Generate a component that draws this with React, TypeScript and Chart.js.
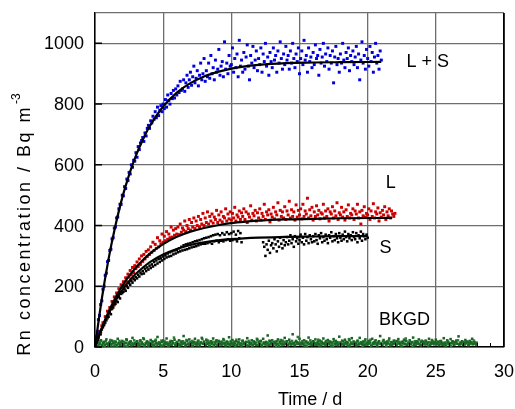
import { useEffect, useRef } from "react";
import { Chart, registerables } from "chart.js";

Chart.register(...registerables);

// sampling interval of the monitor (days) – 2 h
const DT = 1 / 12;
// the second background channel is shifted by half an interval
const BKGD_B_OFFSET = 1 / 24;

// L + S measured concentration (Bq m^-3), one value per 2 h from t = 0
const LS_VALUES = [
  12, 35, 50, 90, 104, 140, 152, 190, 200, 236, 243, 281,
  285, 318, 322, 356, 360, 392, 395, 425, 428, 455, 470, 470,
  500, 498, 528, 522, 553, 548, 575, 570, 600, 592, 615, 612,
  640, 625, 660, 650, 672, 680, 690, 677, 705, 695, 720, 730,
  720, 745, 738, 760, 750, 775, 755, 790, 762, 780, 795, 775,
  800, 785, 815, 790, 830, 812, 800, 835, 818, 845, 820, 850,
  830, 860, 838, 875, 845, 850, 880, 842, 870, 895, 855, 880,
  905, 862, 890, 925, 870, 885, 910, 860, 895, 935, 880, 900,
  950, 875, 910, 890, 935, 885, 960, 900, 920, 880, 945, 905,
  915, 980, 895, 925, 940, 890, 1005, 915, 935, 900, 960, 925,
  930, 985, 905, 950, 920, 965, 890, 1010, 925, 945, 905, 970,
  915, 955, 995, 925, 880, 960, 935, 990, 920, 945, 975, 910,
  950, 930, 985, 905, 965, 940, 1000, 925, 955, 895, 970, 940,
  920, 985, 945, 960, 905, 975, 935, 1005, 950, 915, 965, 930,
  990, 945, 960, 915, 975, 935, 1000, 950, 920, 965, 940, 985,
  900, 950, 975, 930, 1010, 945, 960, 905, 985, 940, 955, 920,
  970, 930, 995, 950, 960, 895, 980, 935, 955, 1000, 925, 965,
  940, 985, 915, 960, 935, 975, 870, 955, 990, 930, 950, 905,
  965, 935, 1000, 945, 920, 970, 950, 985, 910, 960, 940, 975,
  930, 955, 990, 920, 965, 880, 945, 1005, 935, 960, 915, 980,
  950, 925, 990, 940, 970, 905, 955, 1000, 935, 960, 915, 975,
  945,
];

// L measured concentration
const L_VALUES = [
  8, 15, 30, 38, 52, 48, 70, 80, 78, 100, 95, 118,
  112, 130, 128, 150, 138, 165, 155, 178, 170, 192, 180, 205,
  198, 215, 205, 228, 215, 240, 230, 252, 238, 262, 245, 268,
  258, 280, 265, 290, 272, 300, 282, 305, 290, 315, 298, 320,
  305, 330, 312, 345, 318, 338, 325, 360, 330, 350, 340, 372,
  345, 365, 350, 380, 355, 372, 360, 395, 362, 385, 368, 390,
  372, 395, 370, 405, 378, 392, 385, 415, 380, 400, 390, 420,
  385, 410, 395, 425, 390, 415, 400, 430, 395, 420, 405, 440,
  400, 425, 410, 445, 405, 430, 415, 438, 408, 428, 420, 450,
  410, 435, 418, 445, 412, 430, 425, 455, 415, 438, 422, 445,
  418, 440, 425, 460, 415, 435, 428, 448, 420, 442, 430, 455,
  420, 445, 410, 438, 428, 465, 418, 440, 432, 450, 415, 442,
  425, 455, 418, 440, 430, 470, 420, 445, 435, 452, 412, 438,
  428, 460, 422, 445, 435, 475, 418, 450, 430, 445, 425, 462,
  420, 448, 435, 480, 425, 452, 430, 445, 418, 468, 428, 450,
  435, 455, 422, 470, 430, 448, 438, 490, 425, 452, 432, 460,
  418, 445, 430, 465, 435, 450, 422, 442, 438, 470, 425, 448,
  430, 455, 415, 445, 438, 462, 425, 448, 432, 475, 420, 442,
  435, 460, 428, 445, 418, 452, 430, 468, 425, 440, 435, 455,
  420, 448, 438, 470, 425, 445, 405, 450, 432, 462, 428, 440,
  435, 455, 420, 448, 430, 472, 425, 445, 438, 458, 415, 442,
  428, 450, 435, 462, 420, 445, 432, 455, 425, 448, 438, 430,
  440,
];

// S measured concentration (null = no data)
const S_VALUES = [
  5, 12, 25, 30, 45, 42, 58, 65, 72, 80, 88, 95,
  100, 112, 108, 125, 130, 138, 142, 150, 148, 165, 160, 175,
  178, 182, 190, 185, 200, 195, 210, 205, 218, 212, 225, 220,
  230, 226, 238, 232, 245, 240, 250, 242, 258, 250, 262, 255,
  268, 260, 272, 265, 280, 270, 285, 275, 290, 280, 292, 285,
  298, 290, 302, 295, 308, 298, 312, 300, 315, 305, 318, 308,
  320, 312, 325, 315, 330, 318, 335, 320, 338, 322, 340, 325,
  342, 328, 345, 330, 348, 332, 350, 335, 352, 338, 355, 340,
  358, 340, 360, 342, 362, 345, 365, 340, 368, 348, 370, 350,
  372, 345, 368, 350, 375, 348, 370, 352, 378, 355, 372, 350,
  375, 352, 380, 355, 370, 348, 382, 358, 375, 345, null, null,
  null, null, null, null, null, null, null, null, null, null, null, null,
  null, null, null, null, 345, 330, 300, 338, 320, 350, 310, 335,
  342, 325, 355, 338, 315, 348, 330, 360, 340, 325, 352, 335,
  345, 362, 338, 350, 368, 342, 355, 330, 365, 348, 358, 340,
  352, 370, 345, 360, 338, 372, 350, 362, 342, 368, 355, 345,
  365, 348, 372, 352, 340, 368, 358, 375, 345, 362, 350, 370,
  355, 342, 368, 360, 378, 348, 365, 352, 372, 358, 345, 375,
  360, 350, 370, 355, 380, 362, 348, 372, 358, 368, 352, 378,
  362, 355, 375, 345, 368, 358, 380, 350, 372, 365, 355, 370,
  360,
];

// background measurement, channel A (t = i * DT)
const BKGD_VALUES = [
  6, 14, 3, 19, 10, 22, 5, 12, 17, 8, 25, 11,
  4, 16, 9, 21, 13, 2, 18, 7, 27, 12, 6, 15,
  20, 9, 3, 14, 24, 8, 11, 17, 5, 30, 10, 13,
  7, 19, 12, 4, 22, 15, 9, 26, 6, 13, 18, 3,
  11, 23, 8, 16, 5, 20, 14, 33, 9, 12, 4, 17,
  21, 6, 13, 28, 10, 3, 16, 8, 19, 12, 24, 7,
  15, 9, 22, 5, 18, 11, 36, 14, 6, 20, 10, 25,
  8, 13, 4, 17, 27, 9, 12, 21, 5, 15, 30, 11,
  18, 6, 24, 10, 14, 3, 19, 12, 28, 7, 16, 22,
  5, 20, 11, 15, 8, 26, 13, 4, 18, 10, 32, 9,
  14, 23, 7, 12, 19, 6, 16, 25, 10, 3, 21, 13,
  9, 17, 29, 5, 14, 11, 22, 8, 18, 12, 6, 24,
  16, 10, 20, 4, 27, 13, 9, 15, 38, 7, 19, 12,
  22, 6, 14, 18, 10, 25, 3, 17, 11, 21, 8, 30,
  12, 19, 7, 24, 15, 9, 42, 13, 5, 20, 16, 10,
  27, 8, 14, 11, 22, 4, 18, 12, 31, 9, 15, 6,
  19, 13, 25, 7, 16, 10, 21, 5, 14, 28, 11, 17,
  8, 23, 12, 18, 3, 15, 26, 9, 20, 13, 6, 34,
  14, 10, 19, 7, 24, 12, 16, 4, 22, 11, 29, 9,
  17, 5, 13, 21, 8, 30, 14, 10, 18, 6, 25, 12,
  9, 20, 15, 4, 27, 11, 16, 22, 7, 13, 19, 36,
  11, 6, 23, 14, 9, 18, 12, 28, 5, 16, 10, 21,
  15, 8, 19, 26, 12, 4, 17, 13, 24, 9, 20, 7,
  13, 22, 10, 16, 31, 6, 14, 19, 11, 25, 8, 17,
  5, 18, 12, 21, 9, 15, 27, 7, 13, 20, 10, 16,
  24, 11, 17, 6, 19, 14, 8, 29, 12, 4, 22, 15,
  10, 26, 13, 18, 7, 16, 21, 11, 35, 9, 14, 19,
  6, 15, 23, 12, 17, 8, 20, 13, 27, 10, 16, 11,
  14,
];

// background measurement, channel B (t = i * DT + BKGD_B_OFFSET)
const BKGD_VALUES_B = [
  10, 4, 17, 8, 13, 21, 6, 15, 3, 19, 11, 7,
  14, 23, 5, 12, 18, 9, 16, 4, 11, 20, 8, 13,
  6, 17, 12, 25, 3, 15, 9, 19, 13, 7, 22, 10,
  16, 5, 11, 20, 8, 14, 29, 4, 12, 18, 9, 15,
  7, 13, 19, 3, 10, 24, 6, 12, 16, 8, 21, 5,
  12, 18, 9, 15, 4, 11, 20, 7, 14, 31, 6, 13,
  17, 3, 10, 14, 8, 19, 12, 5, 23, 11, 7, 16,
  4, 20, 13, 9, 15, 6, 18, 11, 8, 14, 26, 10,
  12, 7, 16, 21, 5, 13, 9, 17, 4, 11, 19, 8,
  15, 10, 6, 18, 12, 22, 7, 14, 9, 16, 5, 20,
  8, 13, 17, 4, 24, 10, 15, 6, 12, 19, 9, 14,
  11, 5, 16, 20, 8, 13, 3, 18, 10, 15, 27, 7,
  13, 19, 6, 11, 15, 9, 17, 5, 12, 21, 8, 14,
  7, 16, 12, 4, 19, 10, 14, 23, 6, 13, 17, 9,
  18, 5, 11, 15, 8, 20, 12, 7, 16, 10, 33, 13,
  9, 14, 19, 6, 12, 17, 4, 15, 10, 22, 8, 11,
  16, 7, 13, 10, 24, 5, 14, 18, 9, 12, 6, 20,
  12, 17, 8, 15, 11, 4, 19, 13, 7, 16, 10, 14,
  5, 21, 10, 13, 17, 8, 12, 26, 6, 15, 11, 18,
  9, 14, 6, 19, 12, 10, 16, 4, 13, 20, 8, 15,
  17, 11, 24, 7, 14, 9, 18, 12, 5, 16, 10, 13,
  8, 19, 13, 15, 4, 12, 21, 9, 16, 7, 14, 11,
  20, 6, 12, 17, 10, 14, 5, 18, 11, 28, 8, 13,
  15, 9, 16, 4, 13, 19, 7, 12, 17, 10, 6, 21,
  11, 14, 8, 18, 12, 5, 16, 10, 23, 13, 9, 15,
  7, 17, 12, 10, 20, 8, 14, 6, 15, 11, 18, 9,
  13, 4, 19, 12, 9, 16, 11, 22, 7, 14, 10, 17,
  12, 8, 15, 18, 6, 13, 10, 16, 9, 21, 12, 7,
];

// fitted growth curves
const FIT_T_LS = [0, 0.5, 1, 1.5, 2, 2.5, 3, 3.5, 4, 5, 6, 7, 8, 9, 10, 12, 14, 16, 18, 21];
const FIT_LS = [0, 159, 291, 400, 492, 567, 630, 682, 726, 792, 838, 869, 891, 906, 917, 929, 935, 937, 938, 939];
const FIT_T_L = [0, 0.5, 1, 1.5, 2, 2.5, 3, 3.5, 4, 5, 6, 7, 8, 9, 10, 12, 14, 16, 18, 21.8];
const FIT_L = [0, 63, 116, 162, 201, 234, 262, 286, 307, 339, 363, 380, 392, 401, 408, 416, 420, 422, 424, 425];
const FIT_T_S = [0, 0.5, 1, 1.5, 2, 2.5, 3, 3.5, 4, 5, 6, 7, 8, 9, 10, 12, 14, 16, 18, 20];
const FIT_S = [0, 60, 110, 152, 187, 217, 241, 261, 279, 305, 323, 336, 345, 351, 355, 360, 363, 364, 365, 365];

const X_TICKS = [0, 5, 10, 15, 20, 25, 30];
const X_MINOR = [1, 2, 3, 4, 6, 7, 8, 9, 11, 12, 13, 14, 16, 17, 18, 19, 21, 22, 23, 24, 26, 27, 28, 29];
const Y_TICKS = [0, 200, 400, 600, 800, 1000, 1100];
const Y_LABELED = [0, 200, 400, 600, 800, 1000];

const SERIES_LABELS = ["L + S", "L", "S", "BKGD"];
const SERIES_LABEL_X = [24.4, 21.7, 21.3, 22.7];
const SERIES_LABEL_Y = [940, 541, 327, 89];

const X_TITLE = "Time / d";
const Y_TITLE = "Rn concentration / Bq m";
const Y_TITLE_SUP = "-3";

const FONT = '"Liberation Sans", Arial, Helvetica, sans-serif';

const toPoints = (vals: (number | null)[], offset = 0) =>
  vals.map((v, i) => ({ x: i * DT + offset, y: v === null ? NaN : v }));
const toCurve = (ts: number[], vs: number[]) => ts.map((t, i) => ({ x: t, y: vs[i] }));

const overlay = {
  id: "overlay",
  afterDatasetsDraw(chart: any) {
    const { ctx, chartArea: a, scales } = chart;
    const xs = scales.x;
    const ys = scales.y;
    ctx.save();
    ctx.strokeStyle = "#000";
    // right border
    ctx.lineWidth = 1.5;
    ctx.beginPath();
    ctx.moveTo(a.right, a.top);
    ctx.lineTo(a.right, a.bottom);
    ctx.stroke();
    // minor ticks on x
    ctx.lineWidth = 1;
    ctx.beginPath();
    for (const t of X_MINOR) {
      const px = Math.round(xs.getPixelForValue(t)) + 0.5;
      ctx.moveTo(px, a.bottom);
      ctx.lineTo(px, a.bottom - 4);
    }
    ctx.stroke();
    // major ticks on y (inside)
    ctx.lineWidth = 1.5;
    ctx.beginPath();
    for (const v of Y_LABELED) {
      const py = ys.getPixelForValue(v);
      ctx.moveTo(a.left, py);
      ctx.lineTo(a.left + 7, py);
    }
    ctx.stroke();

    ctx.fillStyle = "#000";
    ctx.font = `18px ${FONT}`;
    // x tick labels
    ctx.textAlign = "center";
    ctx.textBaseline = "middle";
    for (const v of X_TICKS) {
      ctx.fillText(String(v), xs.getPixelForValue(v), a.bottom + 25);
    }
    // y tick labels
    ctx.textAlign = "right";
    for (const v of Y_LABELED) {
      ctx.fillText(String(v), a.left - 11, ys.getPixelForValue(v) + 1);
    }
    // series labels
    ctx.textAlign = "center";
    SERIES_LABELS.forEach((s, i) => {
      ctx.fillText(s, xs.getPixelForValue(SERIES_LABEL_X[i]), ys.getPixelForValue(SERIES_LABEL_Y[i]));
    });
    // x title
    ctx.fillText(X_TITLE, a.left + (a.right - a.left) * 0.526, a.bottom + 53);
    // y title with superscript
    ctx.translate(25, 222);
    ctx.rotate(-Math.PI / 2);
    ctx.letterSpacing = "2.5px";
    ctx.font = `18px ${FONT}`;
    const w = ctx.measureText(Y_TITLE).width;
    ctx.font = `12px ${FONT}`;
    const ws = ctx.measureText(Y_TITLE_SUP).width;
    const start = -(w + ws + 1) / 2;
    ctx.textAlign = "left";
    ctx.font = `18px ${FONT}`;
    ctx.fillText(Y_TITLE, start, 0);
    ctx.font = `12px ${FONT}`;
    ctx.letterSpacing = "0px";
    ctx.fillText(Y_TITLE_SUP, start + w + 1, -8);
    ctx.restore();
  },
};

export default function App() {
  const ref = useRef<HTMLCanvasElement>(null);

  useEffect(() => {
    if (!ref.current) return;
    const pointBase = { showLine: false, pointStyle: "rect", borderWidth: 0 };
    const fitBase = {
      showLine: true,
      borderColor: "#000",
      borderWidth: 2.2,
      pointRadius: 0,
      cubicInterpolationMode: "monotone",
      order: 0,
    };
    const chart = new Chart(ref.current, {
      type: "scatter",
      data: {
        datasets: [
          { ...fitBase, label: "fit L+S", data: toCurve(FIT_T_LS, FIT_LS) },
          { ...fitBase, label: "fit L", data: toCurve(FIT_T_L, FIT_L) },
          { ...fitBase, label: "fit S", data: toCurve(FIT_T_S, FIT_S) },
          {
            ...pointBase,
            label: "L + S",
            data: toPoints(LS_VALUES),
            backgroundColor: "#0000dd",
            pointRadius: 2.1,
            order: 2,
          },
          {
            ...pointBase,
            label: "L",
            data: toPoints(L_VALUES),
            backgroundColor: "#cc0000",
            pointRadius: 2.1,
            order: 3,
          },
          {
            ...pointBase,
            label: "S",
            data: toPoints(S_VALUES),
            backgroundColor: "#000",
            pointRadius: 1.8,
            order: 4,
          },
          {
            ...pointBase,
            label: "BKGD",
            data: toPoints(BKGD_VALUES),
            backgroundColor: "#1a6526",
            pointRadius: 1.8,
            order: 5,
          },
          {
            ...pointBase,
            label: "BKGD b",
            data: toPoints(BKGD_VALUES_B, BKGD_B_OFFSET),
            backgroundColor: "#2a7d36",
            pointRadius: 1.8,
            order: 6,
          },
        ],
      } as any,
      options: {
        animation: false,
        responsive: false,
        layout: { padding: { top: 13, right: 11, left: 0, bottom: 0 } },
        plugins: { legend: { display: false }, tooltip: { enabled: false } },
        scales: {
          x: {
            type: "linear",
            min: 0,
            max: 30,
            afterFit: (s: any) => {
              s.height = 62;
            },
            afterBuildTicks: (s: any) => {
              s.ticks = X_TICKS.map((v) => ({ value: v }));
            },
            grid: {
              color: (c: any) => (c.tick && c.tick.value === 30 ? "#000" : "#6e6e6e"),
              lineWidth: 1.3,
              drawTicks: false,
            },
            border: { color: "#000", width: 1.5 },
            ticks: { display: false },
          },
          y: {
            type: "linear",
            min: 0,
            max: 1100,
            afterFit: (s: any) => {
              s.width = 95;
            },
            afterBuildTicks: (s: any) => {
              s.ticks = Y_TICKS.map((v) => ({ value: v }));
            },
            grid: { color: "#6e6e6e", lineWidth: 1.3, drawTicks: false },
            border: { color: "#000", width: 1.5 },
            ticks: { display: false },
          },
        },
      } as any,
      plugins: [overlay],
    });
    return () => chart.destroy();
  }, []);

  return (
    <div style={{ position: "fixed", left: 0, top: 0, width: 515, height: 409, background: "#fff" }}>
      <canvas ref={ref} width={515} height={409} />
    </div>
  );
}
